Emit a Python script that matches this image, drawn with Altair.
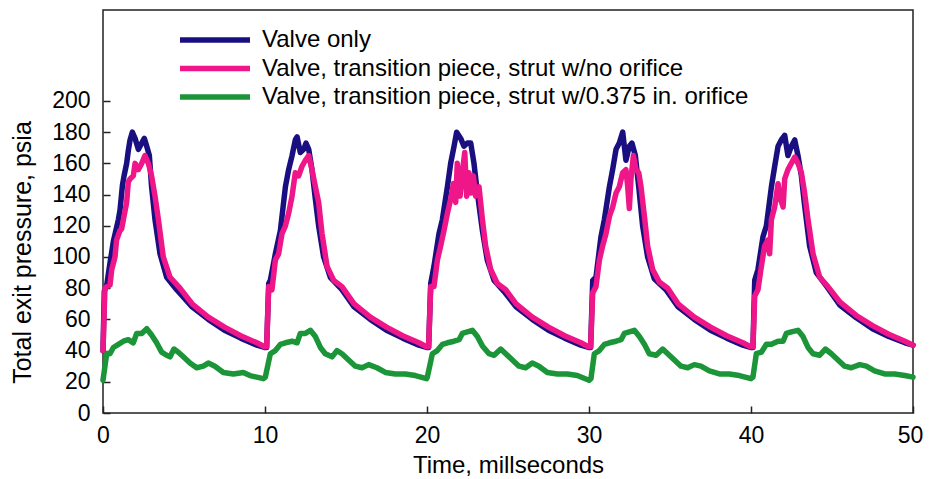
import altair as alt
import pandas as pd

# ---------------- data ----------------
SERIES = [
    "Valve only",
    "Valve, transition piece, strut w/no orifice",
    "Valve, transition piece, strut w/0.375 in. orifice",
]
COLORS = ["#1a0f80", "#ef1689", "#1b9538"]
CYCLE_STARTS = [0, 10, 20, 30, 40]

# Valve only (time within cycle in ms, pressure psia)
VALVE_T1 = [0.0, 0.08, 0.23, 0.43, 0.64, 0.95, 1.05, 1.2, 1.3, 1.46, 1.56, 1.67, 1.81, 1.98, 2.18, 2.39, 2.55, 2.7, 2.86, 3.0, 3.21, 3.52, 3.93, 4.55, 5.5, 6.5, 7.5, 8.5, 9.5, 9.97]
VALVE_P1 = [40, 78, 82, 96, 110, 124, 130, 146, 152, 160, 168, 175, 180, 176, 169, 173, 176, 171, 165, 145, 124, 102, 87, 79, 68, 60, 53, 48, 43.5, 42]
VALVE_T2 = [0.0, 0.1, 0.23, 0.33, 0.64, 0.95, 1.26, 1.46, 1.67, 1.87, 1.98, 2.18, 2.39, 2.53, 2.7, 2.9, 3.11, 3.31, 3.62, 4.03, 4.75, 5.5, 6.5, 7.5, 8.5, 9.5, 9.97]
VALVE_P2 = [42, 42, 83, 85, 102, 117, 145, 156, 165, 175, 177, 167, 169, 173, 169, 156, 137, 120, 100, 87, 79, 68, 60, 53, 48, 43.5, 42]
VALVE_T3 = [0.0, 0.1, 0.23, 0.43, 0.74, 0.95, 1.26, 1.46, 1.67, 1.83, 2.08, 2.28, 2.49, 2.7, 2.9, 3.11, 3.42, 3.72, 4.14, 4.75, 5.5, 6.5, 7.5, 8.5, 9.5, 9.97]
VALVE_P3 = [42, 42, 83, 94, 115, 124, 145, 160, 171, 180, 176, 171, 173, 173, 160, 141, 117, 98, 85, 78, 68, 60, 53, 48, 43.5, 42]
VALVE_T4 = [0.0, 0.1, 0.23, 0.43, 0.74, 0.95, 1.26, 1.46, 1.67, 1.87, 2.08, 2.28, 2.49, 2.65, 2.86, 3.07, 3.31, 3.62, 4.03, 4.75, 5.5, 6.5, 7.5, 8.5, 9.5, 9.97]
VALVE_P4 = [42, 42, 85, 87, 113, 124, 145, 156, 169, 173, 180, 162, 171, 173, 165, 145, 120, 100, 86, 79, 68, 60, 53, 48, 43.5, 42]
VALVE_T5 = [0.0, 0.12, 0.23, 0.43, 0.74, 0.95, 1.26, 1.46, 1.67, 1.87, 2.08, 2.28, 2.49, 2.7, 2.9, 3.11, 3.31, 3.62, 4.03, 4.75, 5.5, 6.5, 7.5, 8.5, 9.5, 10.0]
VALVE_P5 = [42, 42, 85, 92, 113, 120, 145, 158, 171, 175, 178, 165, 171, 175, 165, 152, 133, 107, 90, 80, 69, 61, 54, 49, 45, 43.5]

# Valve, transition piece, strut w/no orifice
NOOR_T1 = [0.0, 0.12, 0.23, 0.43, 0.54, 0.74, 0.84, 1.05, 1.15, 1.26, 1.46, 1.56, 1.67, 1.87, 1.98, 2.18, 2.39, 2.59, 2.8, 3.0, 3.21, 3.42, 3.72, 4.14, 4.75, 5.5, 6.5, 7.5, 8.5, 9.5, 9.97]
NOOR_P1 = [40, 80, 81, 82, 92, 100, 111, 117, 118, 124, 135, 148, 150, 152, 160, 156, 160, 165, 160, 152, 139, 124, 100, 87, 80, 70, 61.5, 55, 49.5, 45, 42.5]
NOOR_T2 = [0.0, 0.1, 0.23, 0.43, 0.64, 0.84, 1.05, 1.26, 1.46, 1.67, 1.87, 2.08, 2.28, 2.49, 2.7, 2.9, 3.11, 3.31, 3.52, 3.83, 4.24, 4.75, 5.5, 6.5, 7.5, 8.5, 9.5, 9.97]
NOOR_P2 = [42.5, 42.5, 81, 79, 98, 102, 115, 120, 128, 139, 154, 152, 158, 162, 165, 156, 145, 135, 115, 94, 85, 81, 70, 61.5, 55, 49.5, 45, 42.5]
NOOR_T3 = [0.0, 0.1, 0.23, 0.43, 0.64, 0.84, 1.05, 1.26, 1.46, 1.63, 1.77, 1.87, 2.04, 2.18, 2.33, 2.45, 2.59, 2.7, 2.86, 3.0, 3.21, 3.42, 3.62, 3.93, 4.34, 4.86, 5.5, 6.5, 7.5, 8.5, 9.5, 9.97]
NOOR_P3 = [42.5, 42.5, 81, 81, 98, 107, 117, 128, 137, 147, 135, 160, 139, 154, 167, 139, 154, 141, 152, 139, 145, 124, 107, 92, 83, 79, 70, 61.5, 55, 49.5, 45, 42.5]
NOOR_T4 = [0.0, 0.1, 0.23, 0.43, 0.64, 0.84, 1.05, 1.26, 1.46, 1.67, 1.87, 2.08, 2.28, 2.39, 2.49, 2.59, 2.74, 2.9, 3.07, 3.21, 3.42, 3.62, 3.93, 4.34, 4.86, 5.5, 6.5, 7.5, 8.5, 9.5, 9.97]
NOOR_P4 = [42.5, 42.5, 77, 81, 98, 107, 115, 126, 132, 141, 145, 154, 156, 145, 131, 150, 165, 156, 154, 145, 126, 107, 92, 84, 80, 70, 61.5, 55, 49.5, 45, 42.5]
NOOR_T5 = [0.0, 0.12, 0.23, 0.43, 0.64, 0.84, 1.05, 1.15, 1.26, 1.46, 1.67, 1.77, 1.98, 2.08, 2.28, 2.49, 2.7, 2.9, 3.11, 3.31, 3.52, 3.83, 4.24, 4.75, 5.5, 6.5, 7.5, 8.5, 9.5, 10.0]
NOOR_P5 = [42.5, 42.5, 75, 79, 94, 107, 111, 102, 124, 132, 147, 139, 132, 150, 156, 160, 164, 160, 154, 141, 124, 102, 87, 81, 71, 62.5, 56, 50.5, 46, 43.5]

# Valve, transition piece, strut w/0.375 in. orifice
ORIF_T1 = [0.0, 0.23, 0.43, 0.64, 0.95, 1.26, 1.56, 1.87, 2.08, 2.39, 2.7, 3.0, 3.31, 3.62, 3.93, 4.14, 4.38, 4.65, 4.96, 5.37, 5.78, 6.19, 6.5, 6.91, 7.43, 8.05, 8.66, 9.07, 9.9]
ORIF_P1 = [21, 38, 38, 42, 44, 46, 47, 45, 51, 51, 54, 50, 45, 39, 37, 36, 41, 39, 36, 32, 29, 30, 32, 30, 26, 25, 26, 24, 22]
ORIF_T2 = [0.02, 0.33, 0.64, 0.95, 1.26, 1.67, 1.98, 2.18, 2.49, 2.8, 3.11, 3.42, 3.72, 4.14, 4.44, 4.75, 5.16, 5.58, 5.99, 6.4, 6.91, 7.43, 8.05, 8.66, 9.28, 9.97]
ORIF_P2 = [23, 38, 40, 44, 45, 46, 45, 51, 51, 53, 49, 42, 38, 36, 40, 38, 34, 30, 29, 31, 29, 26, 25, 25, 24, 22]
ORIF_T3 = [0.02, 0.33, 0.64, 0.95, 1.26, 1.67, 1.98, 2.18, 2.49, 2.8, 3.11, 3.42, 3.83, 4.14, 4.55, 4.86, 5.27, 5.68, 6.09, 6.5, 6.91, 7.43, 8.05, 8.66, 9.28, 10.0]
ORIF_P3 = [23, 38, 40, 44, 45, 46, 47, 51, 52, 53, 49, 43, 38, 37, 41, 38, 34, 30, 29, 32, 30, 26, 25, 25, 24, 21]
ORIF_T4 = [0.12, 0.33, 0.64, 0.95, 1.26, 1.67, 1.98, 2.18, 2.49, 2.8, 3.11, 3.42, 3.72, 4.14, 4.55, 4.86, 5.27, 5.68, 6.09, 6.5, 6.91, 7.43, 8.05, 8.66, 9.28, 10.0]
ORIF_P4 = [22, 38, 40, 44, 45, 46, 47, 51, 52, 53, 49, 44, 38, 37, 41, 38, 34, 30, 29, 31, 30, 27, 25, 25, 24, 22]
ORIF_T5 = [0.12, 0.33, 0.64, 0.95, 1.26, 1.67, 1.98, 2.18, 2.49, 2.9, 3.21, 3.52, 3.83, 4.24, 4.59, 4.96, 5.37, 5.78, 6.19, 6.71, 7.12, 7.63, 8.25, 8.87, 9.49, 10.0]
ORIF_P5 = [23, 38, 39, 44, 44, 46, 46, 51, 52, 53, 49, 42, 38, 37, 41, 38, 34, 30, 29, 31, 30, 27, 25, 25, 24, 23]

CYCLES = {
    SERIES[0]: [(VALVE_T1, VALVE_P1), (VALVE_T2, VALVE_P2), (VALVE_T3, VALVE_P3), (VALVE_T4, VALVE_P4), (VALVE_T5, VALVE_P5)],
    SERIES[1]: [(NOOR_T1, NOOR_P1), (NOOR_T2, NOOR_P2), (NOOR_T3, NOOR_P3), (NOOR_T4, NOOR_P4), (NOOR_T5, NOOR_P5)],
    SERIES[2]: [(ORIF_T1, ORIF_P1), (ORIF_T2, ORIF_P2), (ORIF_T3, ORIF_P3), (ORIF_T4, ORIF_P4), (ORIF_T5, ORIF_P5)],
}

rows = []
for name in SERIES:
    n = 0
    for start, (ts, ps) in zip(CYCLE_STARTS, CYCLES[name]):
        for t, p in zip(ts, ps):
            rows.append({"series": name, "t": start + t, "p": p, "k": n})
            n += 1
df = pd.DataFrame(rows)

FONT = "Liberation Sans"

chart = (
    alt.Chart(df)
    .mark_line(strokeWidth=5.5, strokeJoin="round", strokeCap="round")
    .encode(
        x=alt.X(
            "t:Q",
            scale=alt.Scale(domain=[0, 50], nice=False, zero=False),
            axis=alt.Axis(
                title="Time, millseconds",
                values=[0, 10, 20, 30, 40, 50],
                offset=-7,
                labelPadding=11,
                labelFlush=False,
                labelOffset={"condition": {"test": "datum.value >= 50", "value": -3}, "value": 0},
                labelFontSize=23,
                titleFontSize=24,
                titleY=59,
                titleBaseline="middle",
            ),
        ),
        y=alt.Y(
            "p:Q",
            scale=alt.Scale(domain=[0, 258.3], nice=False),
            axis=alt.Axis(
                title="Total exit pressure, psia",
                values=list(range(0, 201, 20)),
                offset=-7,
                labelPadding=13,
                labelFontSize=23,
                titleFontSize=25,
                titleX=-88,
                titleY=242,
                titleAngle=270,
                titleAlign="center",
                titleBaseline="middle",
            ),
        ),
        color=alt.Color(
            "series:N",
            scale=alt.Scale(domain=SERIES, range=COLORS),
            legend=alt.Legend(
                title=None,
                orient="none",
                legendX=100,
                legendY=18,
                symbolType="M-5,0H5",
                symbolSize=196,
                symbolStrokeWidth=5.5,
                labelOffset=35,
                labelLimit=1000,
                rowPadding=4.5,
                labelFont=FONT,
                labelFontSize=24,
                labelColor="black",
                padding=0,
            ),
        ),
        order=alt.Order("k:Q"),
        detail="series:N",
    )
    .properties(
        width=810,
        height=403,
        background="white",
        autosize=alt.AutoSizeParams(type="none"),
        padding={"left": 95, "top": 2, "right": 11, "bottom": 66},
    )
    .configure_view(stroke="#222222", strokeWidth=1.5)
    .configure_axis(
        grid=False,
        domain=False,
        tickSize=7,
        tickWidth=1.5,
        tickColor="#222222",
        labelFont=FONT,
        labelColor="black",
        titleFont=FONT,
        titleFontWeight="normal",
        titleColor="black",
    )
)

chart.save("out.html", embed_options={"renderer": "svg", "actions": False})
